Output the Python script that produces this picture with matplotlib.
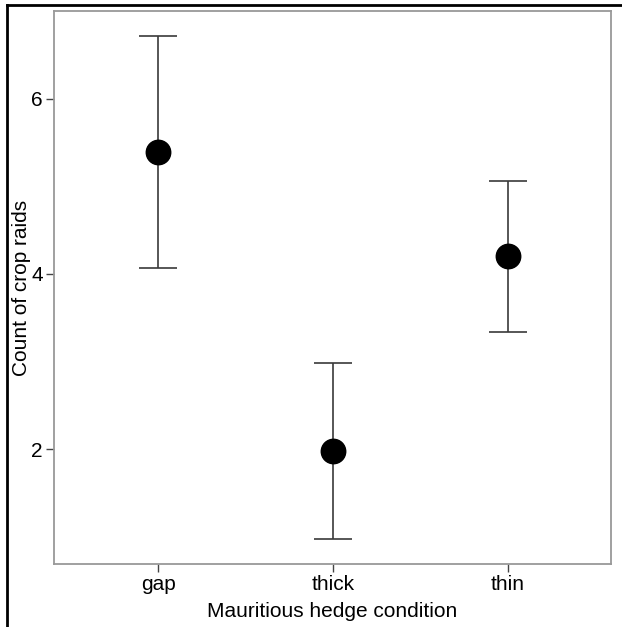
import numpy as np
import matplotlib.pyplot as plt
from matplotlib.lines import Line2D

plt.rcParams['font.family'] = ['Liberation Sans', 'DejaVu Sans']

conditions = ['gap', 'thick', 'thin']
means = [5.39, 1.98, 4.20]
upper = [6.72, 2.98, 5.06]
lower = [4.07, 0.97, 3.34]

W, H = 622, 627
fig = plt.figure(figsize=(W / 100, H / 100), dpi=100)
ax = fig.add_axes([54 / W, 1 - 564 / H, (611 - 54) / W, (564 - 11) / H])

x = np.arange(1, len(conditions) + 1)
m = np.array(means)
yerr = [m - np.array(lower), np.array(upper) - m]
ax.errorbar(x, m, yerr=yerr, fmt='none', ecolor='#3a3a3a', elinewidth=1.2,
            capsize=13.5, capthick=1.2, zorder=2)
ax.scatter(x, m, s=310, color='black', zorder=3)

ax.set_xlim(0.405, 3.59)
ax.set_ylim(0.69, 7.0)
ax.set_xticks(x)
ax.set_xticklabels(conditions, fontsize=15)
ax.set_yticks([2, 4, 6])
ax.set_yticklabels(['2', '4', '6'], fontsize=15)
ax.tick_params(direction='out', length=6, width=1, color='#444444', pad=2)

for s in ax.spines.values():
    s.set_color('#999999')
    s.set_linewidth(1.3)

ax.set_xlabel('Mauritious hedge condition', fontsize=15, labelpad=6)
ax.set_ylabel('Count of crop raids', fontsize=15, labelpad=0)

# outer black frame (top and left edges)
fig.add_artist(Line2D([7.5 / W, 1], [1 - 4.5 / H, 1 - 4.5 / H], color='black', lw=2,
                      transform=fig.transFigure))
fig.add_artist(Line2D([7.5 / W, 7.5 / W], [0, 1 - 4.5 / H], color='black', lw=2,
                      transform=fig.transFigure))

fig.savefig('out.png', dpi=100)
